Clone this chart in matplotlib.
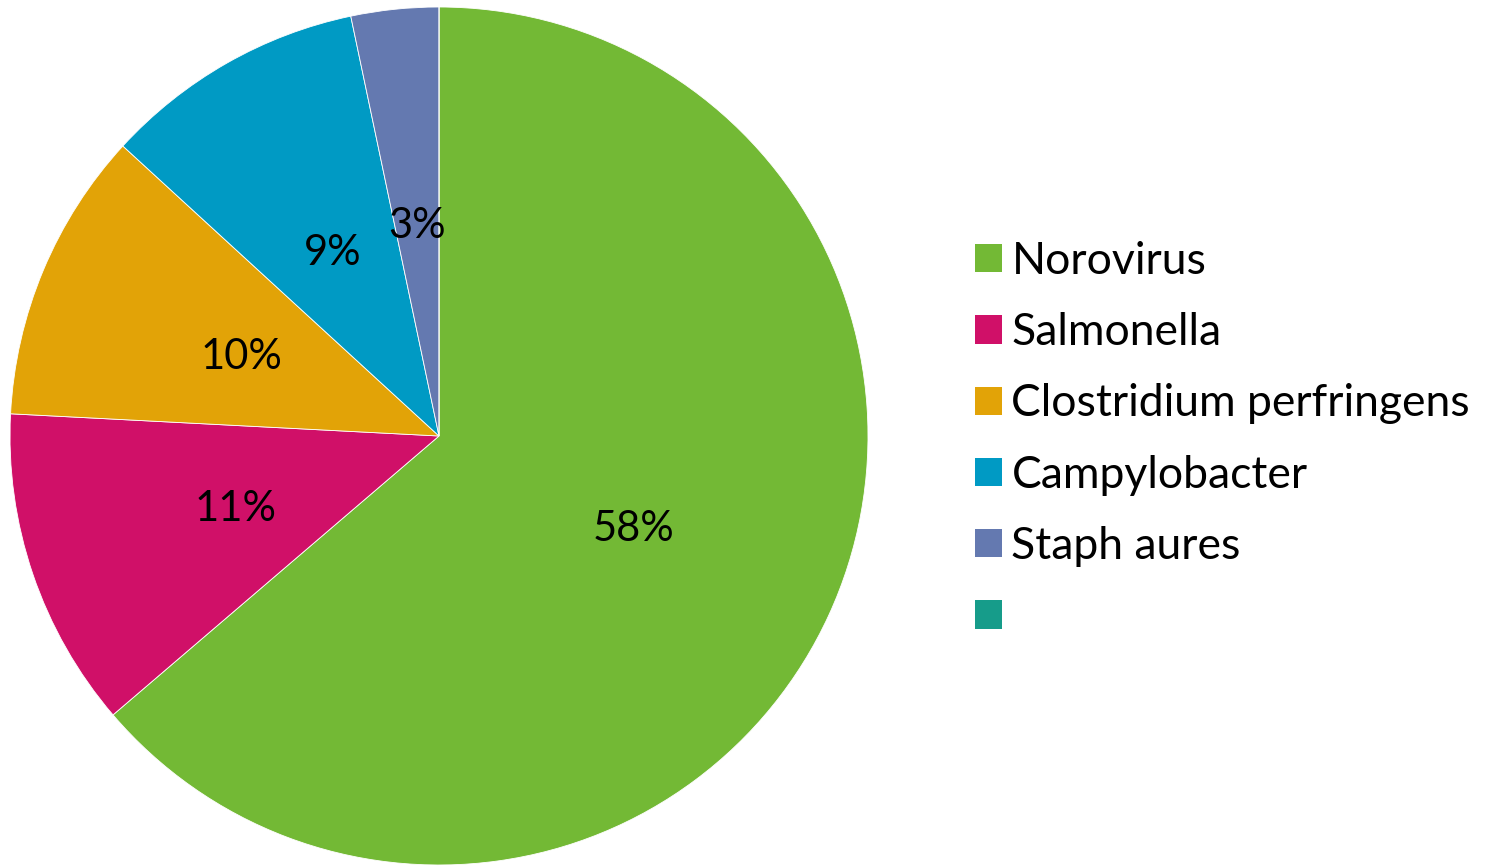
import matplotlib
matplotlib.use("Agg")
import matplotlib.pyplot as plt
from matplotlib.patches import Patch

categories = ["Norovirus", "Salmonella", "Clostridium perfringens", "Campylobacter", "Staph aures", ""]
values = [58, 11, 10, 9, 3, 0]
colors = ["#73B935", "#D01068", "#E2A307", "#009AC4", "#6479B0", "#169C8A"]

plt.rcParams['font.family'] = ['Lato', 'DejaVu Sans']

W, H = 1495, 866
fig = plt.figure(figsize=(W / 100, H / 100), dpi=100)
ax = fig.add_axes([10 / W, 1 / H, 858 / W, 858 / H])

total = sum(values)

def fmt(p):
    v = p * total / 100
    return "" if v < 0.5 else f"{round(v)}%"

wedges, texts, autotexts = ax.pie(
    values, colors=colors, startangle=90, counterclock=False,
    autopct=fmt, pctdistance=0.5, radius=1.0,
    wedgeprops=dict(linewidth=0.6, edgecolor="white"),
    textprops=dict(fontsize=30, color="black"))
for t in autotexts:
    t.set_verticalalignment("center_baseline")
ax.set_xlim(-1, 1)
ax.set_ylim(-1, 1)
ax.set_aspect("equal")
ax.axis("off")

handles = [Patch(facecolor=c, edgecolor="none") for c in colors]
leg = fig.legend(handles, categories, loc="center left",
                 bbox_to_anchor=(935 / W, 1 - 439.5 / H), frameon=False,
                 fontsize=32, handlelength=0.6, handleheight=0.6,
                 handletextpad=0.22, labelspacing=0.68)

fig.savefig("out.png", dpi=100, facecolor="white")
